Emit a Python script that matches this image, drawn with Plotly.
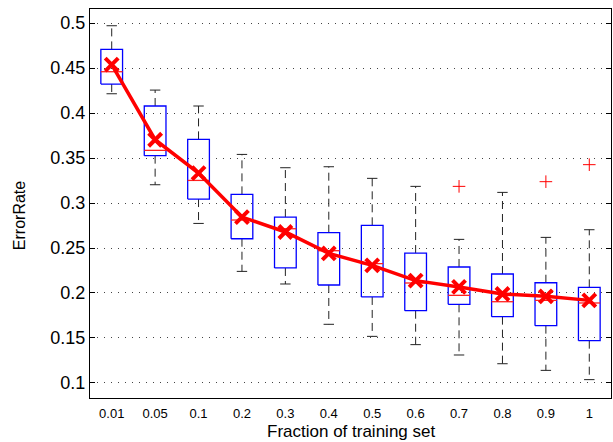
import plotly.graph_objects as go

labels = ['0.01', '0.05', '0.1', '0.2', '0.3', '0.4', '0.5', '0.6', '0.7', '0.8', '0.9', '1']
upper_whisker = [0.497, 0.4255, 0.4078, 0.354, 0.3392, 0.3403, 0.3274, 0.3185, 0.2596, 0.3118, 0.2618, 0.2703]
q3 = [0.4707, 0.4078, 0.3707, 0.3096, 0.2844, 0.267, 0.2752, 0.2444, 0.2289, 0.2211, 0.2114, 0.2063]
median = [0.4459, 0.3585, 0.3251, 0.2811, 0.2714, 0.247, 0.2326, 0.2111, 0.1974, 0.1903, 0.1918, 0.1889]
q1 = [0.4322, 0.3526, 0.3044, 0.2603, 0.2278, 0.2089, 0.1956, 0.1803, 0.1874, 0.1737, 0.1637, 0.147]
lower_whisker = [0.4214, 0.3203, 0.2773, 0.224, 0.21, 0.1652, 0.1518, 0.1426, 0.1311, 0.1214, 0.114, 0.1037]
mean = [0.4537, 0.3703, 0.3333, 0.2844, 0.2678, 0.244, 0.2307, 0.2137, 0.2067, 0.1989, 0.1963, 0.1918]
outlier_labels = ['0.7', '0.9', '1']
outlier_values = [0.3185, 0.3237, 0.3426]
ytick_vals = [0.1, 0.15, 0.2, 0.25, 0.3, 0.35, 0.4, 0.45, 0.5]
ytick_text = ['0.1', '0.15', '0.2', '0.25', '0.3', '0.35', '0.4', '0.45', '0.5']

pos = list(range(1, len(labels) + 1))
W = 0.25   # half box width
C = 0.12   # half cap width

bx, by, wx, wy, cx, cy, mx, my = [], [], [], [], [], [], [], []
for i, p in enumerate(pos):
    bx += [p - W, p + W, p + W, p - W, p - W, None]
    by += [q1[i], q1[i], q3[i], q3[i], q1[i], None]
    wx += [p, p, None, p, p, None]
    wy += [q3[i], upper_whisker[i], None, q1[i], lower_whisker[i], None]
    cx += [p - C, p + C, None, p - C, p + C, None]
    cy += [upper_whisker[i], upper_whisker[i], None, lower_whisker[i], lower_whisker[i], None]
    mx += [p - W, p + W, None]
    my += [median[i], median[i], None]

ox = [pos[labels.index(l)] for l in outlier_labels]

fig = go.Figure()
fig.add_trace(go.Scatter(x=wx, y=wy, mode='lines',
                         line=dict(color='#222222', width=1, dash='8px,5px'),
                         hoverinfo='skip', showlegend=False))
fig.add_trace(go.Scatter(x=cx, y=cy, mode='lines',
                         line=dict(color='#222222', width=1),
                         hoverinfo='skip', showlegend=False))
fig.add_trace(go.Scatter(x=bx, y=by, mode='lines',
                         line=dict(color='#0000ff', width=1.3),
                         hoverinfo='skip', showlegend=False))
fig.add_trace(go.Scatter(x=mx, y=my, mode='lines',
                         line=dict(color='#ff2020', width=1.3),
                         hoverinfo='skip', showlegend=False))
fig.add_trace(go.Scatter(x=ox, y=outlier_values, mode='markers',
                         marker=dict(symbol='cross-thin', size=9,
                                     line=dict(color='#ff0000', width=1)),
                         showlegend=False))
fig.add_trace(go.Scatter(x=pos, y=mean, mode='lines+markers',
                         line=dict(color='#ff0000', width=3.5),
                         marker=dict(symbol='x-thin', size=13,
                                     line=dict(color='#ff0000', width=4)),
                         showlegend=False))

fig.update_layout(
    width=613, height=442,
    margin=dict(l=90, r=2, t=9, b=44),
    plot_bgcolor='white', paper_bgcolor='white',
    font=dict(family='Liberation Sans, Arial, sans-serif', color='black'),
    xaxis=dict(range=[0.5, 12.5], tickvals=pos, ticktext=labels,
               showgrid=False, zeroline=False, showline=True, mirror=True,
               linecolor='black', linewidth=1.2, ticks='',
               tickfont=dict(size=13), ticklabelstandoff=3),
    yaxis=dict(range=[0.0833, 0.5156], tickvals=ytick_vals, ticktext=ytick_text,
               showgrid=True, gridcolor='#444444', gridwidth=1, griddash='1px,6px',
               zeroline=False, showline=True, mirror='ticks',
               linecolor='black', linewidth=1.2, ticks='inside', ticklen=5,
               tickcolor='black', tickfont=dict(size=18)),
    annotations=[
        dict(text='Fraction of training set', xref='paper', yref='paper',
             x=0.5, y=-0.085, xanchor='center', yanchor='middle', showarrow=False,
             font=dict(size=17)),
        dict(text='ErrorRate', xref='paper', yref='paper',
             x=-0.134, y=0.468, xanchor='center', yanchor='middle', showarrow=False,
             textangle=-90, font=dict(size=16)),
    ],
)

fig.write_html('out.html', config={'displayModeBar': False},
               post_script="document.body.style.margin='0';document.body.style.overflow='hidden';")
